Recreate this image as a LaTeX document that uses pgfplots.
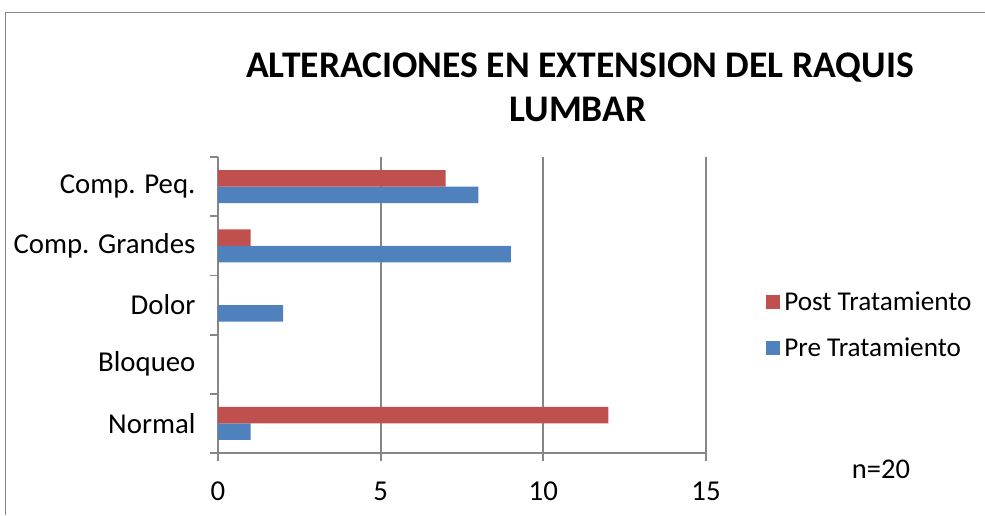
\documentclass[border=0pt]{standalone}
\usepackage{pgfplots}
\pgfplotsset{compat=1.18}
\usepackage{fontspec}
\setmainfont{Carlito}
\definecolor{barred}{HTML}{C0504D}
\definecolor{barblue}{HTML}{4F81BD}
\definecolor{gridgray}{HTML}{868686}
\begin{document}
\begin{tikzpicture}
\useasboundingbox (0,0) rectangle (985pt,515pt);
\draw[gridgray, line width=1.6pt] (5.5pt,0) -- (5.5pt,502.5pt) -- (985pt,502.5pt);
\node[anchor=base, font=\fontsize{37.6}{42}\selectfont\bfseries] at (580pt,437pt) {ALTERACIONES EN EXTENSION DEL RAQUIS};
\node[anchor=base, font=\fontsize{37.6}{42}\selectfont\bfseries] at (578pt,393pt) {LUMBAR};
\node[font=\fontsize{28.5}{32}\selectfont] at (881pt,46pt) {n=20};
\begin{axis}[
  at={(218pt,62pt)}, anchor=south west,
  scale only axis, width=488pt, height=296pt,
  xmin=0, xmax=15, ymin=-0.5, ymax=4.5,
  xbar, bar width=16.5pt,
  axis lines*=left,
  axis line style={draw=gridgray, line width=1.8pt, -},
  xtick={0,5,10,15},
  xmajorgrids,
  grid style={gridgray, line width=1.8pt},
  ytick={0,1,2,3,4},
  yticklabels={Normal,Bloqueo,Dolor,Comp. Grandes,Comp. Peq.},
  minor ytick={-0.5,0.5,1.5,2.5,3.5,4.5},
  major y tick style={draw=none},
  tick align=outside,
  major tick length=8pt, minor tick length=8pt,
  tick style={gridgray, line width=1.8pt},
  /pgf/number format/assume math mode=true,
  tick label style={font=\fontsize{28.8}{34}\selectfont},
  yticklabel style={xshift=-11pt},
  xticklabel style={yshift=-17pt},
  legend style={at={(1.117,0.432)}, anchor=west, draw=none, fill=none,
    font=\fontsize{27.2}{32}\selectfont, row sep=18pt,
    nodes={inner sep=4pt}},
  legend cell align=left,
  reverse legend,
  legend image code/.code={\path[#1] (0pt,-7pt) rectangle (14pt,7pt);},
]
\addplot[fill=barblue, draw=none, bar shift=-8.25pt] coordinates {(1,0) (0,1) (2,2) (9,3) (8,4)};
\addlegendentry{Pre Tratamiento}
\addplot[fill=barred, draw=none, bar shift=8.25pt] coordinates {(12,0) (0,1) (0,2) (1,3) (7,4)};
\addlegendentry{Post Tratamiento}
\end{axis}
\end{tikzpicture}
\end{document}
